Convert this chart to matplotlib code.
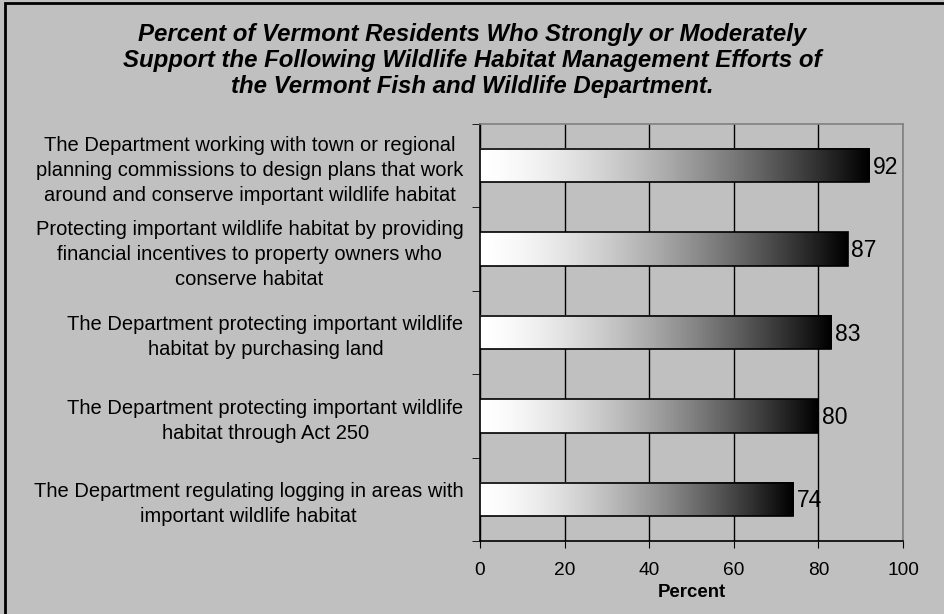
import numpy as np
import matplotlib
matplotlib.use("Agg")
import matplotlib.pyplot as plt
from matplotlib.patches import Rectangle

plt.rcParams['font.family'] = ['Liberation Sans', 'DejaVu Sans']

title = ("Percent of Vermont Residents Who Strongly or Moderately\n"
         "Support the Following Wildlife Habitat Management Efforts of\n"
         "the Vermont Fish and Wildlife Department.")

labels = [
    "The Department working with town or regional\nplanning commissions to design plans that work\naround and conserve important wildlife habitat",
    "Protecting important wildlife habitat by providing\nfinancial incentives to property owners who\nconserve habitat",
    "The Department protecting important wildlife\nhabitat by purchasing land",
    "The Department protecting important wildlife\nhabitat through Act 250",
    "The Department regulating logging in areas with\nimportant wildlife habitat",
]
values = [92, 87, 83, 80, 74]
xticks = [0, 20, 40, 60, 80, 100]

bg = '#c0c0c0'
fig = plt.figure(figsize=(9.45, 6.14), dpi=100, facecolor=bg)
ax = fig.add_axes([0.508, 0.119, 0.4476, 0.679])
ax.set_facecolor(bg)

# white -> black gradient, light part stays longer
t = np.linspace(0, 1, 256)
grad = (1 - t ** 1.5).reshape(1, -1)
bar_h = 0.4
for i, v in enumerate(values):
    ax.imshow(grad, cmap='gray', aspect='auto', extent=(0, v, i + bar_h / 2, i - bar_h / 2),
              vmin=0, vmax=1, zorder=3, interpolation='bicubic')
    ax.add_patch(Rectangle((0, i - bar_h / 2), v, bar_h, fill=False, edgecolor='black',
                           linewidth=1.2, zorder=4))
    ax.text(v + 0.8, i + 0.02, str(v), va='center', ha='left', fontsize=16.5, zorder=5)

ax.set_xlim(0, 100)
ax.set_ylim(len(values) - 0.5, -0.5)
ax.set_xticks(xticks)
ax.set_xticklabels([str(t) for t in xticks], fontsize=13.8)
ax.set_xlabel('Percent', fontsize=13.4, fontweight='bold', labelpad=4)
ax.xaxis.grid(True, color='black', linewidth=1, zorder=1)
ax.set_axisbelow(True)

ax.set_yticks(range(len(labels)))
ax.set_yticklabels(labels, fontsize=14.5, ha='right', multialignment='center', linespacing=1.4)
ax.set_yticks(np.arange(-0.5, len(labels), 1), minor=True)
ax.tick_params(axis='y', which='major', length=0, pad=12)
ax.tick_params(axis='y', which='minor', length=6, direction='out')
ax.tick_params(axis='x', length=5, direction='out', pad=10)

for s in ['left', 'bottom']:
    ax.spines[s].set_color('black')
    ax.spines[s].set_linewidth(1.2)
for s in ['top', 'right']:
    ax.spines[s].set_color('#808080')
    ax.spines[s].set_linewidth(1.2)

fig.text(0.5, 0.962, title, ha='center', va='top', fontsize=17.3, fontweight='bold',
         style='italic', linespacing=1.15)

# outer border
fig.add_artist(Rectangle((5 / 945, -0.1), 1.2, (614 - 3) / 614 + 0.1, transform=fig.transFigure,
                         fill=False, edgecolor='black', linewidth=2))

fig.savefig('out.png', dpi=100, facecolor=bg)
